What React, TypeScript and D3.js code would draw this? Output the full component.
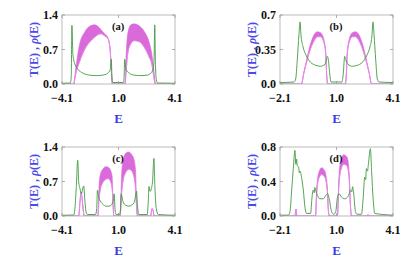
import * as d3 from "d3";

// rho(E): green line, T(E): magenta band [E, lower, upper]
const rhoA = [
  [-4.1, 0.015], [-3.5, 0.02], [-3.43, 0.15], [-3.38, 1.19], [-3.31, 0.6], [-3.16, 0.4],
  [-2.95, 0.3], [-2.58, 0.22], [-2.1, 0.18], [-1.62, 0.17], [-1.14, 0.18], [-0.78, 0.22],
  [-0.59, 0.3], [-0.52, 0.5], [-0.47, 0.1], [-0.4, 0.03], [0.35, 0.03], [0.4, 0.1],
  [0.45, 0.5], [0.54, 0.3], [0.78, 0.22], [1.14, 0.18], [1.62, 0.17], [2.1, 0.18],
  [2.34, 0.22], [2.51, 0.3], [2.58, 0.5], [2.63, 1.2], [2.68, 0.4], [2.75, 0.08],
  [2.85, 0.02], [4.1, 0.015],
];
const tA = [
  [-4.1, 0, 0], [-3.26, 0, 0], [-3.11, 0.2, 0.3], [-2.83, 0.45, 0.8], [-2.46, 0.7, 1.05],
  [-2.1, 0.85, 1.17], [-1.74, 0.95, 1.2], [-1.5, 1.0, 1.17], [-1.26, 1.02, 1.1],
  [-1.02, 0.98, 1.02], [-0.78, 0.93, 0.95], [-0.61, 0.7, 0.72], [-0.52, 0.3, 0.3],
  [-0.45, 0, 0], [0.47, 0, 0], [0.54, 0.2, 0.5], [0.66, 0.6, 1.0], [0.9, 0.82, 1.2],
  [1.14, 0.88, 1.22], [1.5, 0.86, 1.18], [1.86, 0.75, 1.07], [2.22, 0.55, 0.85],
  [2.42, 0.4, 0.6], [2.56, 0.15, 0.3], [2.66, 0, 0.05], [2.7, 0, 0], [4.1, 0, 0],
];

const rhoB = [
  [-2.1, 0.015], [-1.33, 0.02], [-1.24, 0.05], [-1.15, 0.25], [-1.06, 0.5], [-1.0, 0.63],
  [-0.95, 0.5], [-0.84, 0.38], [-0.69, 0.3], [-0.42, 0.22], [-0.14, 0.19], [0.13, 0.18],
  [0.37, 0.2], [0.5, 0.28], [0.55, 0.25], [0.63, 0.1], [0.7, 0.02], [1.3, 0.02],
  [1.37, 0.1], [1.45, 0.28], [1.5, 0.25], [1.63, 0.2], [1.87, 0.18], [2.14, 0.19],
  [2.42, 0.22], [2.69, 0.3], [2.84, 0.38], [2.95, 0.5], [3.0, 0.63], [3.06, 0.5],
  [3.15, 0.25], [3.24, 0.05], [3.33, 0.02], [4.1, 0.015],
];
const tB = [
  [-2.1, 0, 0], [-0.93, 0, 0], [-0.78, 0.12, 0.13], [-0.6, 0.25, 0.28], [-0.42, 0.36, 0.41],
  [-0.23, 0.44, 0.5], [-0.05, 0.48, 0.53], [0.13, 0.48, 0.52], [0.31, 0.42, 0.45],
  [0.41, 0.3, 0.32], [0.46, 0.1, 0.1], [0.52, 0, 0], [1.48, 0, 0], [1.54, 0.1, 0.1],
  [1.59, 0.3, 0.32], [1.69, 0.42, 0.45], [1.87, 0.48, 0.52], [2.05, 0.48, 0.53],
  [2.23, 0.44, 0.5], [2.42, 0.36, 0.41], [2.6, 0.25, 0.28], [2.78, 0.12, 0.13],
  [2.93, 0, 0], [4.1, 0, 0],
];

const rhoC = [
  [-4.1, 0.015], [-3.25, 0.02], [-3.18, 0.1], [-3.06, 0.6], [-2.96, 1.13], [-2.89, 0.7],
  [-2.79, 0.55], [-2.69, 0.45], [-2.6, 0.55], [-2.52, 0.61], [-2.45, 0.35], [-2.35, 0.08],
  [-2.26, 0.03], [-1.67, 0.03], [-1.58, 0.15], [-1.53, 0.52], [-1.43, 0.38], [-1.31, 0.3],
  [-1.14, 0.24], [-0.9, 0.2], [-0.66, 0.2], [-0.46, 0.25], [-0.36, 0.35], [-0.32, 0.45],
  [-0.24, 0.1], [-0.17, 0.03], [0.07, 0.03], [0.15, 0.15], [0.19, 0.45], [0.32, 0.3],
  [0.51, 0.22], [0.75, 0.2], [1.0, 0.23], [1.16, 0.3], [1.26, 0.45], [1.31, 0.5],
  [1.38, 0.2], [1.48, 0.03], [2.09, 0.03], [2.16, 0.3], [2.21, 0.6], [2.3, 0.5],
  [2.38, 0.55], [2.47, 0.7], [2.57, 1.17], [2.64, 0.6], [2.74, 0.15], [2.89, 0.03],
  [4.1, 0.015],
];
const tC = [
  [-4.1, 0, 0], [-2.89, 0, 0], [-2.79, 0.3, 0.3], [-2.72, 0.48, 0.48], [-2.64, 0.35, 0.35],
  [-2.55, 0.1, 0.1], [-2.48, 0, 0], [-1.5, 0, 0], [-1.41, 0.35, 0.6], [-1.31, 0.55, 0.85],
  [-1.14, 0.68, 0.95], [-0.95, 0.74, 1.0], [-0.75, 0.76, 0.99], [-0.58, 0.7, 0.93],
  [-0.46, 0.55, 0.8], [-0.39, 0.2, 0.25], [-0.34, 0, 0], [0.12, 0, 0], [0.22, 0.45, 0.8],
  [0.32, 0.7, 1.1], [0.51, 0.88, 1.27], [0.75, 0.95, 1.3], [0.95, 0.92, 1.25],
  [1.12, 0.8, 1.15], [1.24, 0.55, 0.9], [1.33, 0.1, 0.15], [1.38, 0, 0], [2.33, 0, 0],
  [2.43, 0.15, 0.15], [2.52, 0.1, 0.1], [2.58, 0, 0], [4.1, 0, 0],
];

const rhoD = [
  [-2.1, 0.01], [-1.64, 0.01], [-1.55, 0.05], [-1.46, 0.3], [-1.37, 0.55], [-1.28, 0.76],
  [-1.23, 0.6], [-1.19, 0.66], [-1.15, 0.58], [-1.08, 0.57], [-1.04, 0.5], [-1.0, 0.52],
  [-0.92, 0.45], [-0.82, 0.3], [-0.73, 0.1], [-0.64, 0.03], [-0.42, 0.03], [-0.35, 0.2],
  [-0.28, 0.3], [-0.22, 0.27], [-0.19, 0.33], [-0.09, 0.26], [0.09, 0.2], [0.27, 0.2],
  [0.42, 0.24], [0.51, 0.26], [0.6, 0.2], [0.73, 0.05], [0.85, 0.02], [0.96, 0.05],
  [1.04, 0.2], [1.13, 0.26], [1.27, 0.22], [1.46, 0.2], [1.64, 0.23], [1.78, 0.3],
  [1.84, 0.28], [1.88, 0.34], [1.95, 0.25], [2.04, 0.05], [2.13, 0.02], [2.37, 0.02],
  [2.46, 0.2], [2.55, 0.45], [2.6, 0.42], [2.64, 0.55], [2.7, 0.52], [2.75, 0.6],
  [2.86, 0.78], [2.93, 0.5], [3.01, 0.2], [3.1, 0.03], [4.1, 0.01],
];
const tD = [
  [-2.1, 0, 0], [-1.28, 0, 0], [-1.225, 0.08, 0.08], [-1.17, 0, 0], [-0.15, 0, 0],
  [-0.09, 0.25, 0.3], [0.0, 0.42, 0.48], [0.18, 0.48, 0.56], [0.36, 0.45, 0.52],
  [0.49, 0.3, 0.35], [0.56, 0.05, 0.05], [0.6, 0, 0], [1.05, 0, 0], [1.13, 0.35, 0.45],
  [1.22, 0.52, 0.62], [1.4, 0.6, 0.71], [1.58, 0.58, 0.68], [1.69, 0.45, 0.52],
  [1.77, 0.1, 0.1], [1.82, 0, 0], [2.68, 0, 0], [2.73, 0.015, 0.015], [2.78, 0, 0],
  [4.1, 0, 0],
];

// axis ticks
const xTicksWide = [-4.1, 0, 4.1];
const xLabelsWide = ["\u22124.1", "1.0", "4.1"];
const xTicksNarrow = [-2.1, 1.0, 4.1];
const xLabelsNarrow = ["\u22122.1", "1.0", "4.1"];
const yTicksA = [0, 0.7, 1.4];
const yLabelsA = ["0.0", "0.7", "1.4"];
const yTicksB = [0, 0.35, 0.7];
const yLabelsB = ["0.0", "0.35", "0.7"];
const yTicksD = [0, 0.4, 0.8];
const yLabelsD = ["0.0", "0.4", "0.8"];

const W = 113;
const H = 69;
const FONT = "'Liberation Serif', 'Times New Roman', serif";

type PanelProps = {
  x0: number;
  y0: number;
  tag: string;
  xDomain: [number, number];
  yMax: number;
  xTicks: number[];
  xLabels: string[];
  yTicks: number[];
  yLabels: string[];
  rho: number[][];
  t: number[][];
};

function Panel(p: PanelProps) {
  const x = d3.scaleLinear().domain(p.xDomain).range([0, W]);
  const y = d3.scaleLinear().domain([0, p.yMax]).range([H, 0]);

  const band = d3
    .area<number[]>()
    .x((d) => x(d[0]))
    .y0((d) => y(d[1]))
    .y1((d) => y(d[2]))
    .curve(d3.curveMonotoneX);
  const lowLine = d3
    .line<number[]>()
    .x((d) => x(d[0]))
    .y((d) => y(d[1]))
    .curve(d3.curveMonotoneX);
  const rhoLine = d3
    .line<number[]>()
    .x((d) => x(d[0]))
    .y((d) => y(d[1]))
    .curve(d3.curveMonotoneX);

  return (
    <g transform={`translate(${p.x0},${p.y0})`}>
      <defs>
        <clipPath id={`clip-${p.tag}`}>
          <rect x={0} y={-1} width={W} height={H + 1} />
        </clipPath>
      </defs>
      <g clipPath={`url(#clip-${p.tag})`}>
        <path d={band(p.t) || ""} fill="#da6ada" stroke="#da6ada" strokeWidth={0.6} />
        <path d={lowLine(p.t) || ""} fill="none" stroke="#e58ae5" strokeWidth={0.9} />
        <path d={rhoLine(p.rho) || ""} fill="none" stroke="#3f9a3f" strokeWidth={0.9} />
      </g>
      <rect x={0} y={0} width={W} height={H} fill="none" stroke="#aaa" strokeWidth={0.8} />
      {p.xTicks.map((v, i) => (
        <g key={"x" + i}>
          <line x1={x(v)} x2={x(v)} y1={H} y2={H - 3} stroke="#999" strokeWidth={0.8} />
          <line x1={x(v)} x2={x(v)} y1={0} y2={3} stroke="#999" strokeWidth={0.8} />
          <text
            x={x(v)}
            y={H + 18}
            textAnchor="middle"
            fontFamily={FONT}
            fontWeight="bold"
            fontSize={12}
            fill="#111"
          >
            {p.xLabels[i]}
          </text>
        </g>
      ))}
      {p.yTicks.map((v, i) => (
        <g key={"y" + i}>
          <line x1={0} x2={3} y1={y(v)} y2={y(v)} stroke="#999" strokeWidth={0.8} />
          <line x1={W} x2={W - 3} y1={y(v)} y2={y(v)} stroke="#999" strokeWidth={0.8} />
          <text
            x={-4}
            y={y(v) + 4}
            textAnchor="end"
            fontFamily={FONT}
            fontWeight="bold"
            fontSize={12}
            fill="#111"
          >
            {p.yLabels[i]}
          </text>
        </g>
      ))}
      <text
        x={56}
        y={15}
        textAnchor="middle"
        fontFamily={FONT}
        fontWeight="bold"
        fontSize={10.5}
        fill="#111"
      >
        ({p.tag})
      </text>
      <text
        x={W / 2}
        y={H + 39}
        textAnchor="middle"
        fontFamily={FONT}
        fontWeight="bold"
        fontSize={13}
        fill="#3b3be6"
      >
        E
      </text>
      <text
        transform={`translate(-24,${H / 2}) rotate(-90)`}
        textAnchor="middle"
        fontFamily={FONT}
        fontWeight="bold"
        fontSize={12}
        fill="#4a4ae8"
      >
        T(E) , <tspan fontStyle="italic">ρ</tspan>(E)
      </text>
    </g>
  );
}

export default function App() {
  return (
    <svg
      width={417}
      height={259}
      style={{ position: "absolute", left: 0, top: 0, background: "#fff" }}
    >
      <Panel x0={62} y0={15} tag="a" xDomain={[-4.1, 4.1]} yMax={1.4}
        xTicks={xTicksWide} xLabels={xLabelsWide} yTicks={yTicksA} yLabels={yLabelsA}
        rho={rhoA} t={tA} />
      <Panel x0={280} y0={15} tag="b" xDomain={[-2.1, 4.1]} yMax={0.7}
        xTicks={xTicksNarrow} xLabels={xLabelsNarrow} yTicks={yTicksB} yLabels={yLabelsB}
        rho={rhoB} t={tB} />
      <Panel x0={62} y0={147} tag="c" xDomain={[-4.1, 4.1]} yMax={1.4}
        xTicks={xTicksWide} xLabels={xLabelsWide} yTicks={yTicksA} yLabels={yLabelsA}
        rho={rhoC} t={tC} />
      <Panel x0={280} y0={147} tag="d" xDomain={[-2.1, 4.1]} yMax={0.8}
        xTicks={xTicksNarrow} xLabels={xLabelsNarrow} yTicks={yTicksD} yLabels={yLabelsD}
        rho={rhoD} t={tD} />
    </svg>
  );
}
